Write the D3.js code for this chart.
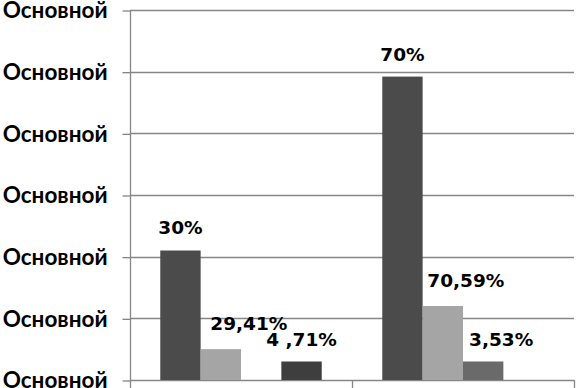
<!DOCTYPE html>
<html><head><meta charset="utf-8">
<script src="https://cdn.jsdelivr.net/npm/d3@7"></script>
<style>body{margin:0;background:#fff}svg{display:block}</style>
</head><body>
<svg id="c" width="576" height="388"></svg>
<script>
const categories = ["A", "B"];
const series = ["s1", "s2", "s3", "s4"];
const valuesS1 = [2.1, 4.92];
const valuesS2 = [0.5, 1.2];
const valuesS3 = [null, 0.3];
const valuesS4 = [0.3, null];
const labelsS1 = ["30%", "70%"];
const labelsS2 = ["29,41%", "70,59%"];
const labelsS3 = [null, "3,53%"];
const labelsS4 = ["4 ,71%", null];
const yTickValues = [0, 1, 2, 3, 4, 5, 6];
const yTickLabels = ["Основной","Основной","Основной","Основной","Основной","Основной","Основной"];

(function () {
const colors = {s1: "#4b4b4b", s2: "#a5a5a5", s3: "#6a6a6a", s4: "#3e3e3e"};
const labelShift = {s1: [0, 0], s2: [28, 23], s3: [0, 18], s4: [0, 0]};
const labelLift = {s1: [17, 16], s2: [19, 19], s3: [0, 16], s4: [16, 0]};

const valueMap = {s1: valuesS1, s2: valuesS2, s3: valuesS3, s4: valuesS4};
const labelMap = {s1: labelsS1, s2: labelsS2, s3: labelsS3, s4: labelsS4};

const svg = d3.select("#c");
const mLeft = 130, mRight = 574, mTop = 10, mBottom = 380;
const x = d3.scaleBand().domain(categories).range([mLeft, mRight]);
const bw = x.bandwidth();
const barW = bw / 5.5;
const xs = d3.scaleBand().domain(series).range([0.75 * barW, bw - 0.75 * barW]);
const y = d3.scaleLinear().domain([0, 6]).range([mBottom, mTop]);

const grid = "#868686";
svg.append("g").selectAll("line").data(yTickValues.slice(1)).join("line")
  .attr("x1", mLeft).attr("x2", mRight)
  .attr("y1", d => Math.round(y(d)) + 0.5).attr("y2", d => Math.round(y(d)) + 0.5)
  .attr("stroke", grid).attr("stroke-width", 1.3);

const yAxis = d3.axisLeft(y).tickValues(yTickValues).tickSize(8).tickPadding(15)
  .tickFormat((d, i) => yTickLabels[i]);
const gy = svg.append("g").attr("transform", `translate(${mLeft + 0.5},0.5)`).call(yAxis);
gy.selectAll("path,line").attr("stroke", grid).attr("stroke-width", 1.3);
gy.select(".domain").attr("d", `M0,${mTop}V${mBottom}`);
gy.selectAll("text").attr("font-family", "Lato, 'Open Sans', sans-serif")
  .attr("font-weight", "bold").attr("font-size", 22.5).attr("fill", "#000");

const bounds = [mLeft, ...categories.map(c => x(c) + bw)];
svg.append("line").attr("x1", mLeft).attr("x2", mRight).attr("y1", mBottom + 0.5).attr("y2", mBottom + 0.5)
  .attr("stroke", grid).attr("stroke-width", 1.3);
svg.append("g").selectAll("line").data(bounds).join("line")
  .attr("x1", d => Math.round(d) + 0.5).attr("x2", d => Math.round(d) + 0.5)
  .attr("y1", mBottom).attr("y2", mBottom + 8)
  .attr("stroke", grid).attr("stroke-width", 1.3);

const items = [];
categories.forEach((c, ci) => series.forEach(s => {
  const v = valueMap[s][ci];
  if (v != null) items.push({c, ci, s, v, label: labelMap[s][ci]});
}));
svg.append("g").selectAll("rect").data(items).join("rect")
  .attr("x", d => x(d.c) + xs(d.s)).attr("width", xs.bandwidth())
  .attr("y", d => y(d.v)).attr("height", d => y(0) - y(d.v))
  .attr("fill", d => colors[d.s]);

svg.append("g").selectAll("text").data(items).join("text")
  .attr("x", d => x(d.c) + xs(d.s) + xs.bandwidth() / 2 + labelShift[d.s][d.ci])
  .attr("y", d => y(d.v) - labelLift[d.s][d.ci])
  .attr("text-anchor", "middle")
  .attr("font-family", "'DejaVu Sans', Verdana, sans-serif")
  .attr("font-weight", "bold").attr("font-size", 18.5).attr("fill", "#000")
  .text(d => d.label);
})();
</script>
</body></html>
